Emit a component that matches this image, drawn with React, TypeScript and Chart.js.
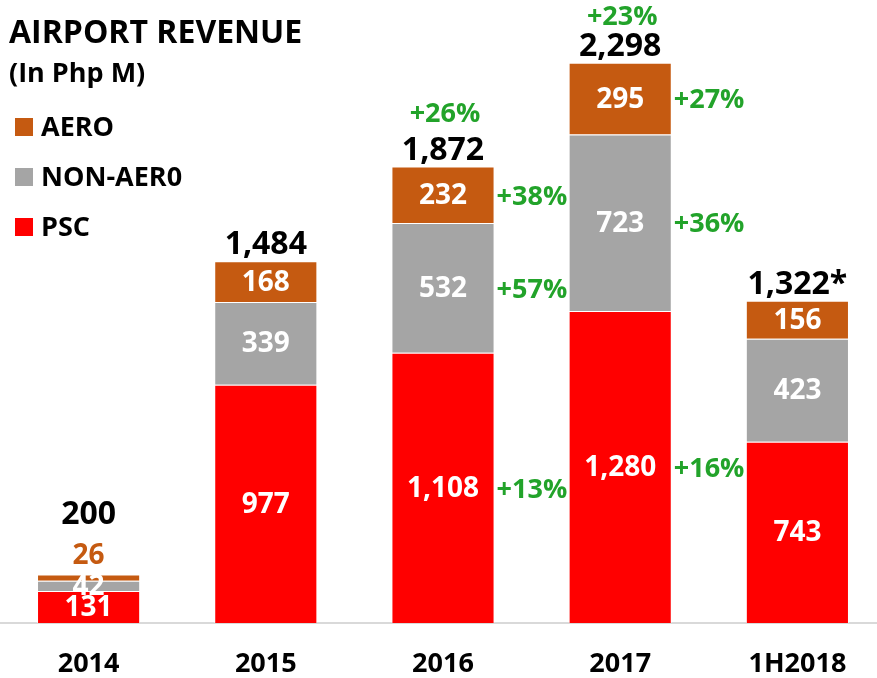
import React, { useEffect, useRef } from 'react';
import { Chart, registerables } from 'chart.js';

Chart.register(...registerables);

const categories = ['2014', '2015', '2016', '2017', '1H2018'];
const pscValues = [131, 977, 1108, 1280, 743];
const nonAeroValues = [42, 339, 532, 723, 423];
const aeroValues = [26, 168, 232, 295, 156];
const totalLabels = ['200', '1,484', '1,872', '2,298', '1,322*'];
const seriesNames = ['PSC', 'NON-AER0', 'AERO'];
const seriesColors = ['#FF0000', '#A5A5A5', '#C55A11'];

// growth annotations: category index, segment index (-1 = above the total), text
const growthCategory = [2, 2, 2, 2, 3, 3, 3, 3];
const growthSegment = [-1, 2, 1, 0, -1, 2, 1, 0];
const growthLabels = ['+26%', '+38%', '+57%', '+13%', '+23%', '+27%', '+36%', '+16%'];

const FONT = '"Open Sans", Lato, sans-serif';
const GREEN = '#22A32A';

const labelsPlugin = {
  id: 'customLabels',
  afterDraw(chart: any) {
    const ctx = chart.ctx as CanvasRenderingContext2D;
    ctx.save();

    // title
    ctx.fillStyle = '#000';
    ctx.textAlign = 'left';
    ctx.textBaseline = 'alphabetic';
    ctx.font = `bold 32px ${FONT}`;
    ctx.fillText('AIRPORT REVENUE', 9, 43);
    ctx.font = `bold 27px ${FONT}`;
    ctx.fillText('(In Php M)', 9, 82);

    // legend
    [2, 1, 0].forEach((di, k) => {
      const ds = chart.data.datasets[di];
      const y = 127 + k * 50;
      ctx.fillStyle = ds.backgroundColor;
      ctx.fillRect(15, y - 9, 18, 18);
      ctx.fillStyle = '#000';
      ctx.font = `bold 27px ${FONT}`;
      ctx.textBaseline = 'middle';
      ctx.textAlign = 'left';
      ctx.fillText(ds.label, 41, y + 1);
    });

    const metas = [0, 1, 2].map((i) => chart.getDatasetMeta(i));
    const totalBase: number[] = [];

    categories.forEach((_, i) => {
      const top = metas[2].data[i].y;
      let totalY = top - 7;
      metas.forEach((m: any, di: number) => {
        const el = m.data[i];
        const h = el.base - el.y;
        const v = chart.data.datasets[di].data[i];
        const txt = Number(v).toLocaleString('en-US');
        ctx.font = `bold 28px ${FONT}`;
        ctx.textAlign = 'center';
        if (di === 2 && h < 20) {
          ctx.fillStyle = seriesColors[2];
          ctx.textBaseline = 'alphabetic';
          ctx.fillText(txt, el.x, top - 10);
          totalY = top - 50;
        } else {
          ctx.fillStyle = '#fff';
          ctx.textBaseline = 'middle';
          ctx.fillText(txt, el.x, (el.y + el.base) / 2 + 1);
        }
      });
      ctx.fillStyle = '#000';
      ctx.font = `bold 32px ${FONT}`;
      ctx.textAlign = 'center';
      ctx.textBaseline = 'alphabetic';
      ctx.fillText(totalLabels[i], metas[2].data[i].x, totalY);
      totalBase[i] = totalY;
    });

    growthLabels.forEach((txt, g) => {
      const ci = growthCategory[g];
      const si = growthSegment[g];
      ctx.fillStyle = GREEN;
      ctx.font = `bold 27px ${FONT}`;
      if (si < 0) {
        const el = metas[2].data[ci];
        ctx.textAlign = 'center';
        ctx.textBaseline = 'alphabetic';
        ctx.fillText(txt, el.x + 2, Math.max(25, totalBase[ci] - 38));
      } else {
        const el = metas[si].data[ci];
        ctx.textAlign = 'left';
        ctx.textBaseline = 'middle';
        ctx.fillText(txt, el.x + el.width / 2 + 2, (el.y + el.base) / 2 + 2);
      }
    });

    ctx.restore();
  },
};

export default function App() {
  const ref = useRef<HTMLCanvasElement | null>(null);

  useEffect(() => {
    if (!ref.current) return;
    const valueSets = [pscValues, nonAeroValues, aeroValues];
    const chart = new Chart(ref.current, {
      type: 'bar',
      data: {
        labels: categories,
        datasets: valueSets.map((vals, i) => ({
          label: seriesNames[i],
          data: vals,
          backgroundColor: seriesColors[i],
          borderColor: 'rgba(255,255,255,0.6)',
          borderWidth: 1,
          barPercentage: 0.582,
          categoryPercentage: 1,
        })),
      },
      options: {
        responsive: false,
        animation: false,
        layout: { padding: 0 },
        plugins: {
          legend: { display: false },
          tooltip: { enabled: false },
          title: { display: false },
        },
        scales: {
          x: {
            stacked: true,
            grid: { display: false, drawTicks: false },
            border: { display: true, color: '#D9D9D9', width: 2 },
            ticks: {
              color: '#000',
              padding: 25,
              font: { family: FONT, size: 27, weight: 'bold' },
            },
            afterFit: (s: any) => {
              s.height = 55;
            },
          },
          y: { stacked: true, display: false, min: 0, max: 2555 },
        },
      },
      plugins: [labelsPlugin],
    } as any);
    return () => chart.destroy();
  }, []);

  return (
    <div
      style={{
        position: 'fixed',
        left: 0,
        top: 0,
        width: 877,
        height: 678,
        overflow: 'hidden',
        background: '#fff',
      }}
    >
      <canvas ref={ref} width={886} height={678} style={{ display: 'block' }} />
    </div>
  );
}
